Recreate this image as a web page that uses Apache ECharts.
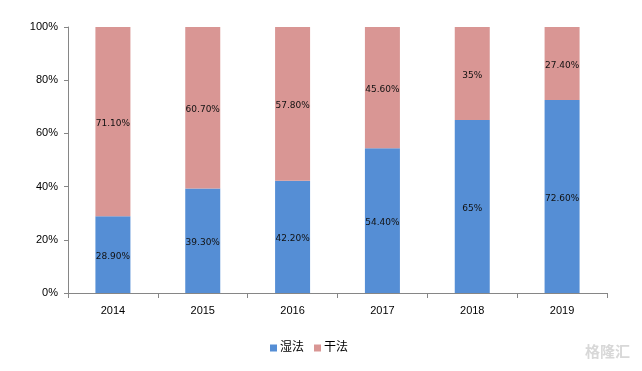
<!DOCTYPE html>
<html><head><meta charset="utf-8">
<script src="https://cdn.jsdelivr.net/npm/echarts@6/dist/echarts.min.js"></script>
<style>html,body{margin:0;padding:0;background:#fff}#c{width:642px;height:371px}</style>
</head><body><div id="c"></div>
<script>
var categories = ['2014','2015','2016','2017','2018','2019'];
var wetValues = [28.9, 39.3, 42.2, 54.4, 65, 72.6];
var dryValues = [71.1, 60.7, 57.8, 45.6, 35, 27.4];
var wetLabels = ['28.90%','39.30%','42.20%','54.40%','65%','72.60%'];
var dryLabels = ['71.10%','60.70%','57.80%','45.60%','35%','27.40%'];
var seriesNames = ['湿法','干法'];

var chart = echarts.init(document.getElementById('c'));
var font = '"Liberation Sans","Noto Sans CJK SC",sans-serif';
var lfont = '"DejaVu Sans",sans-serif';
function lbl(arr){return function(p){return arr[p.dataIndex];};}
chart.setOption({
  animation:false,
  grid:{left:68,right:35,top:27,bottom:78},
  legend:{bottom:12,left:265,itemWidth:7,itemHeight:7,itemGap:10,icon:'rect',
    textStyle:{fontSize:12,color:'#000',fontFamily:font,padding:[0,0,0,-2]},
    data:seriesNames},
  xAxis:{type:'category',data:categories,
    axisLine:{lineStyle:{color:'#868686'}},
    axisTick:{show:true,length:5,lineStyle:{color:'#868686'}},
    axisLabel:{color:'#000',fontSize:11,fontFamily:font,margin:12}},
  yAxis:{type:'value',min:0,max:100,interval:20,
    axisLine:{show:true,lineStyle:{color:'#868686'}},
    axisTick:{show:true,length:4,inside:false,lineStyle:{color:'#868686'}},
    splitLine:{show:false},
    axisLabel:{formatter:'{value}%',color:'#000',fontSize:11,fontFamily:font,margin:10}},
  series:[
    {name:seriesNames[0],type:'bar',stack:'a',barWidth:35,data:wetValues,
     itemStyle:{color:'#558ED5'},
     label:{show:true,position:'inside',offset:[0,2],formatter:lbl(wetLabels),color:'#111',fontSize:9,fontFamily:lfont}},
    {name:seriesNames[1],type:'bar',stack:'a',barWidth:35,data:dryValues,
     itemStyle:{color:'#D99694'},
     label:{show:true,position:'inside',offset:[0,2],formatter:lbl(dryLabels),color:'#111',fontSize:9,fontFamily:lfont}}
  ],
  graphic:[{type:'text',right:12,bottom:12,style:{text:'格隆汇',fill:'#d8d8d8',font:'bold 15px "Noto Sans CJK SC"'}}]
});
</script></body></html>
